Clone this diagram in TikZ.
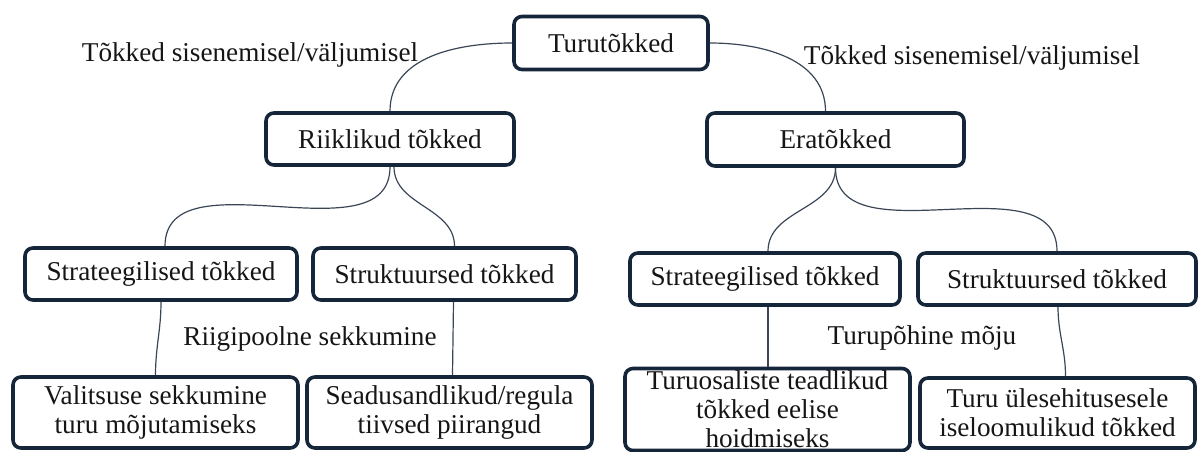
\documentclass[tikz,border=0pt]{standalone}
\usepackage{fontspec}
\setmainfont{Liberation Serif}
\usetikzlibrary{calc}
\definecolor{boxc}{HTML}{16263A}
\definecolor{linec}{HTML}{3A4656}
\definecolor{txtc}{HTML}{151515}
\begin{document}
\begin{tikzpicture}[x=1pt,y=-1pt,
  every node/.style={text=txtc,font=\fontsize{27.2}{29}\selectfont},
  box/.style={draw=boxc,line width=3.6pt,rounded corners=8pt,align=center,inner sep=0pt},
  conn/.style={draw=linec,line width=1.2pt},
  lbl/.style={inner sep=0pt}]
\useasboundingbox (0,0) rectangle (1200,452);
% level 0/1
\node[box,minimum width=194,minimum height=53] (top) at (611,43) {Turut\~okked};
\node[box,minimum width=248,minimum height=52] (riik) at (390,139) {Riiklikud t\~okked};
\node[box,minimum width=257,minimum height=53] (era) at (835.5,139.5) {Erat\~okked};
% level 2
\node[box,minimum width=272,minimum height=52] (s1) at (161,274) {Strateegilised t\~okked};
\node[box,minimum width=263,minimum height=52] (s2) at (444.5,274) {Struktuursed t\~okked};
\node[box,minimum width=270,minimum height=52] (s3) at (765,279) {Strateegilised t\~okked};
\node[box,minimum width=278,minimum height=52] (s4) at (1057,279) {Struktuursed t\~okked};
% level 3
\node[box,minimum width=285,minimum height=71] (v1) at (155.5,412.5) {Valitsuse sekkumine\\turu m\~ojutamiseks};
\node[box,minimum width=285,minimum height=71] (v2) at (449.5,412.5) {Seadusandlikud/regula\\tiivsed piirangud};
\node[box,minimum width=285,minimum height=82] (v3) at (767.5,409.5) {Turuosaliste teadlikud\\t\~okked eelise\\hoidmiseks};
\node[box,minimum width=275,minimum height=70] (v4) at (1057.5,413) {Turu \"ulesehitusesele\\iseloomulikud t\~okked};
% labels
\node[lbl] (l1) at (250,55) {T\~okked sisenemisel/v\"aljumisel};
\node[lbl] (l2) at (972,58) {T\~okked sisenemisel/v\"aljumisel};
\node[lbl] (l3) at (310,339) {Riigipoolne sekkumine};
\node[lbl] (l4) at (922,338) {Turup\~ohine m\~oju};
% connectors
\draw[conn] (top.west) to[out=180,in=90] (riik.north);
\draw[conn] (top.east) to[out=0,in=90] ($(era.north)+(-10,0)$);
\draw[conn] (riik.south) to[out=-90,in=90] ($(s1.north)+(4,0)$);
\draw[conn] ($(riik.south)+(4,0)$) to[out=-90,in=90] ($(s2.north)+(10,0)$);
\draw[conn] (era.south) to[out=-90,in=90] ($(s3.north)+(3,0)$);
\draw[conn] (era.south) to[out=-90,in=90] (s4.north);
\draw[conn] (s1.south) to[out=-90,in=90] (v1.north);
\draw[conn] ($(s2.south)+(9,0)$) -- ($(v2.north)+(3,0)$);
\draw[conn] ($(s3.south)+(3,0)$) -- ($(v3.north)+(0.5,0)$);
\draw[conn] ($(s4.south)+(1,0)$) to[out=-90,in=90] ($(v4.north)+(8,0)$);
\end{tikzpicture}
\end{document}
